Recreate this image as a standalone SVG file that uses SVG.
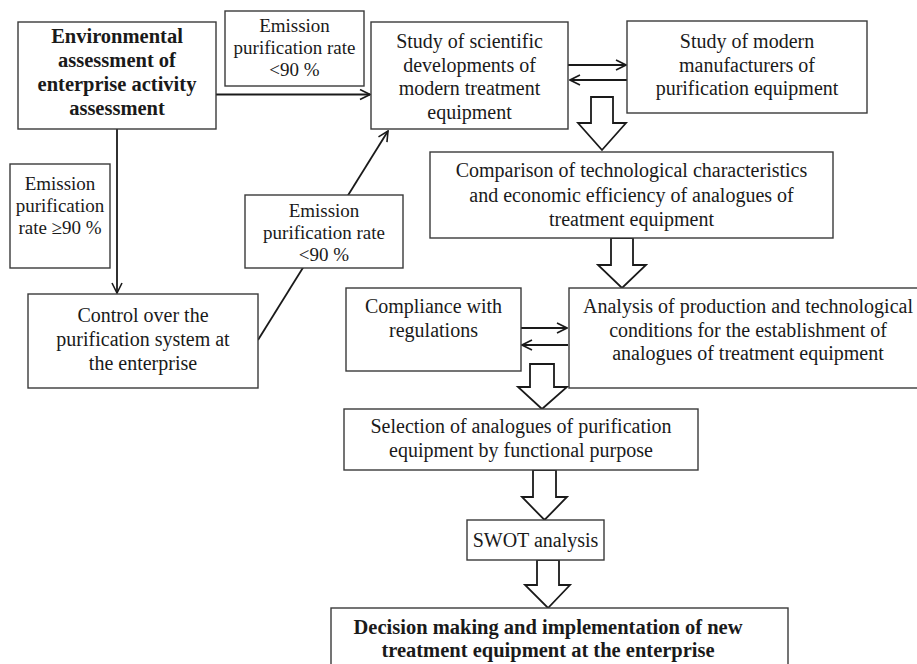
<svg xmlns="http://www.w3.org/2000/svg" width="917" height="664" viewBox="0 0 917 664">
<defs>
<style>
.box{fill:#fff;stroke:#3a3a3a;stroke-width:1.4}
.t{font-size:20px;fill:#1a1a1a;text-anchor:middle}
.lbl{font-size:19px}
.b{font-weight:bold;font-size:20.5px}
.ln{stroke:#1a1a1a;stroke-width:1.8;fill:none}
.blk{fill:#fff;stroke:#1a1a1a;stroke-width:1.8;stroke-linejoin:miter}
</style>
<marker id="ah" viewBox="0 0 12 12" refX="11" refY="6" markerWidth="12" markerHeight="12" markerUnits="userSpaceOnUse" orient="auto">
<path d="M1,1 L11,6 L1,11" fill="none" stroke="#1a1a1a" stroke-width="1.6"/>
</marker>
</defs>
<rect width="917" height="664" fill="#fff"/>

<g id="connectors">
<line class="ln" x1="216" y1="94.5" x2="370" y2="94.5" marker-end="url(#ah)"/>
<line class="ln" x1="117" y1="129" x2="117" y2="293" marker-end="url(#ah)"/>
<line class="ln" x1="258" y1="340" x2="388" y2="131" marker-end="url(#ah)"/>
<line class="ln" x1="568" y1="65" x2="626" y2="65" marker-end="url(#ah)"/>
<line class="ln" x1="627" y1="80" x2="570" y2="80" marker-end="url(#ah)"/>
<line class="ln" x1="521" y1="328" x2="567" y2="328" marker-end="url(#ah)"/>
<line class="ln" x1="568" y1="345" x2="522" y2="345" marker-end="url(#ah)"/>
<path class="blk" d="M591,97 H613 V123 H626 L602,150 L578,123 H591 Z"/>
<path class="blk" d="M611,238 H633 V265 H646 L622,288 L598,265 H611 Z"/>
<path class="blk" d="M530,364 H554 V387 H567 L542,409 L518,387 H530 Z"/>
<path class="blk" d="M533,470 H556 V497 H567 L544.5,520 L522,497 H533 Z"/>
<path class="blk" d="M537,560 H559 V585 H570 L548,608 L525,585 H537 Z"/>
</g>

<g font-family="Liberation Serif, DejaVu Serif, serif">
<g id="env">
<rect class="box" x="18" y="22" width="198" height="107"/>
<text class="t b" x="117" y="43">Environmental</text>
<text class="t b" x="117" y="67">assessment of</text>
<text class="t b" x="117" y="91">enterprise activity</text>
<text class="t b" x="117" y="115">assessment</text>
</g>

<g id="label-top">
<rect class="box" x="225" y="11" width="139" height="75"/>
<text class="t lbl" x="294.5" y="32">Emission</text>
<text class="t lbl" x="294.5" y="54">purification rate</text>
<text class="t lbl" x="294.5" y="76">&lt;90 %</text>
</g>

<g id="study-sci">
<rect class="box" x="371" y="22" width="197" height="107"/>
<text class="t" x="469.5" y="48">Study of scientific</text>
<text class="t" x="469.5" y="72">developments of</text>
<text class="t" x="469.5" y="95">modern treatment</text>
<text class="t" x="469.5" y="119">equipment</text>
</g>

<g id="study-man">
<rect class="box" x="627" y="21" width="240" height="92"/>
<text class="t" x="747" y="48">Study of modern</text>
<text class="t" x="747" y="72">manufacturers of</text>
<text class="t" x="747" y="95">purification equipment</text>
</g>

<g id="label-left">
<rect class="box" x="10" y="164" width="100" height="104"/>
<text class="t lbl" x="60" y="190">Emission</text>
<text class="t lbl" x="60" y="212">purification</text>
<text class="t lbl" x="60" y="234">rate ≥90 %</text>
</g>

<g id="control">
<rect class="box" x="28" y="294" width="230" height="94"/>
<text class="t" x="143" y="322">Control over the</text>
<text class="t" x="143" y="346">purification system at</text>
<text class="t" x="143" y="370">the enterprise</text>
</g>

<g id="label-mid">
<rect class="box" x="245" y="195" width="158" height="73"/>
<text class="t lbl" x="324" y="217">Emission</text>
<text class="t lbl" x="324" y="239">purification rate</text>
<text class="t lbl" x="324" y="261">&lt;90 %</text>
</g>

<g id="comparison">
<rect class="box" x="430" y="152" width="403" height="86"/>
<text class="t" x="631.5" y="177">Comparison of technological characteristics</text>
<text class="t" x="631.5" y="202">and economic efficiency of analogues of</text>
<text class="t" x="631.5" y="226">treatment equipment</text>
</g>

<g id="compliance">
<rect class="box" x="346" y="288" width="175" height="83"/>
<text class="t" x="433.5" y="313">Compliance with</text>
<text class="t" x="433.5" y="337">regulations</text>
</g>

<g id="analysis">
<rect class="box" x="569" y="288" width="360" height="100"/>
<text class="t" x="748" y="313">Analysis of production and technological</text>
<text class="t" x="748" y="337">conditions for the establishment of</text>
<text class="t" x="748" y="360">analogues of treatment equipment</text>
</g>

<g id="selection">
<rect class="box" x="344" y="409" width="354" height="61"/>
<text class="t" x="521" y="433">Selection of analogues of purification</text>
<text class="t" x="521" y="457">equipment by functional purpose</text>
</g>

<g id="swot">
<rect class="box" x="467" y="520" width="137" height="40"/>
<text class="t" x="535.5" y="547">SWOT analysis</text>
</g>

<g id="decision">
<rect class="box" x="331" y="608" width="457" height="70"/>
<text class="t b" x="548" y="634">Decision making and implementation of new</text>
<text class="t b" x="548" y="657">treatment equipment at the enterprise</text>
</g>
</g>
</svg>
